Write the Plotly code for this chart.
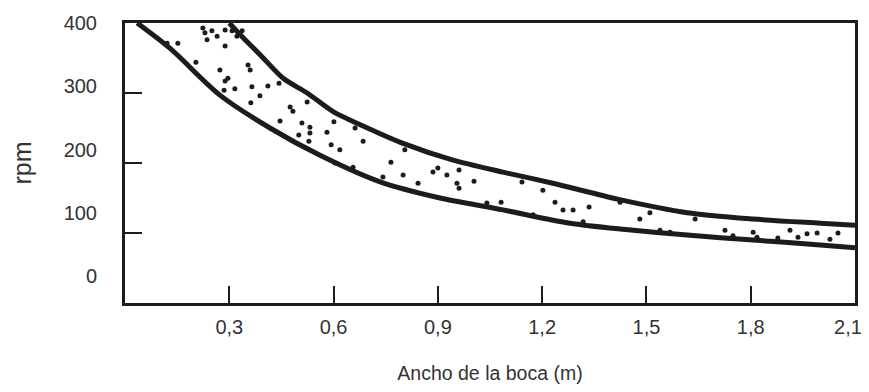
import plotly.graph_objects as go

# ---- data ----
upper_x = [0.30, 0.33, 0.39, 0.455, 0.524, 0.60, 0.68, 0.80, 0.944, 1.087, 1.231, 1.42, 1.617, 1.807, 2.0, 2.1]
upper_y = [400, 384, 354, 321, 300, 273, 254, 228, 204, 187, 171, 148, 129, 120, 114, 111]

lower_x = [0.035, 0.129, 0.273, 0.417, 0.561, 0.734, 0.897, 1.087, 1.28, 1.44, 1.617, 1.807, 2.0, 2.1]
lower_y = [400, 364, 297, 250, 211, 173, 151, 133, 114, 105, 97, 90, 83, 79]

pts_x = [0.121, 0.152, 0.224, 0.230, 0.236, 0.250, 0.265, 0.288, 0.288, 0.308, 0.322, 0.337,
         0.204, 0.273, 0.296, 0.288, 0.285, 0.316, 0.354, 0.360, 0.365, 0.388, 0.362, 0.411,
         0.443, 0.475, 0.483, 0.446, 0.509, 0.500, 0.532, 0.532, 0.529, 0.524, 0.601, 0.581,
         0.593, 0.618, 0.662, 0.685, 0.604, 0.656, 0.765, 0.805, 0.800, 0.886, 0.843, 0.742,
         0.900, 0.926, 0.955, 0.961, 0.961, 1.004, 1.041, 1.082, 1.174, 1.202, 1.237, 1.260,
         1.289, 1.335, 1.318, 1.424, 1.142, 1.481, 1.510, 1.539, 1.568, 1.640, 1.726, 1.749,
         1.807, 1.818, 1.878, 1.913, 1.936, 1.962, 1.991, 2.028, 2.051]
pts_y = [371, 371, 393, 386, 376, 389, 381, 390, 367, 389, 381, 389,
         344, 333, 321, 317, 304, 306, 340, 333, 309, 296, 286, 310,
         314, 280, 274, 260, 257, 240, 251, 243, 231, 287, 259, 244,
         226, 219, 250, 231, 200, 194, 201, 219, 183, 187, 171, 180,
         193, 183, 171, 164, 190, 174, 143, 144, 126, 161, 144, 133,
         133, 137, 116, 144, 173, 120, 129, 104, 101, 120, 104, 96,
         101, 94, 93, 104, 94, 99, 100, 91, 100]

x_tickvals = [0.3, 0.6, 0.9, 1.2, 1.5, 1.8, 2.1]
x_ticktext = ["0,3", "0,6", "0,9", "1,2", "1,5", "1,8", "2,1"]
y_tickmarks = [100, 200, 300]
y_labelvals = [0, 100, 200, 300, 400]
y_labeltext = ["0", "100", "200", "300", "400"]

INK = "#1c1c1c"
TXT = "#333333"
FONT = "Liberation Sans"

fig = go.Figure()
fig.add_trace(go.Scatter(x=pts_x, y=pts_y, mode="markers",
                         marker=dict(size=5, color=INK), showlegend=False))
fig.add_trace(go.Scatter(x=upper_x, y=upper_y, mode="lines",
                         line=dict(color=INK, width=5, shape="spline", smoothing=0.8),
                         showlegend=False))
fig.add_trace(go.Scatter(x=lower_x, y=lower_y, mode="lines",
                         line=dict(color=INK, width=5, shape="spline", smoothing=0.8),
                         showlegend=False))
# invisible traces to activate the extra label axes
fig.add_trace(go.Scatter(x=[None], y=[None], yaxis="y2", showlegend=False, hoverinfo="skip"))
fig.add_trace(go.Scatter(x=[None], y=[None], xaxis="x2", showlegend=False, hoverinfo="skip"))

# page body has an 8px default margin: figure sized so the page fits the 869x392 window
fig.update_layout(
    width=853, height=376,
    margin=dict(l=117, r=6, t=15, b=81),
    paper_bgcolor="white", plot_bgcolor="white",
    font=dict(family=FONT, color=TXT, size=20),
    xaxis=dict(range=[0, 2.1], tickvals=x_tickvals, ticktext=x_ticktext[:-1] + [""],
               ticks="inside", ticklen=17, tickwidth=2, tickcolor=INK,
               showline=True, linewidth=3, linecolor=INK, mirror=True,
               showgrid=False, zeroline=False, ticklabelstandoff=4, automargin=False,
               tickfont=dict(size=20, color=TXT),
               title=dict(text="Ancho de la boca (m)", font=dict(size=19.5, color=TXT), standoff=31)),
    # last x label, shifted left so it stays inside the page
    xaxis2=dict(range=[0, 2.1], overlaying="x", anchor="y", side="bottom",
                tickvals=x_tickvals[-1:], ticktext=x_ticktext[-1:], ticks="",
                showline=False, showgrid=False, zeroline=False, ticklabelstandoff=10,
                ticklabelshift=-7, ticklabeloverflow="allow", automargin=False,
                tickfont=dict(size=20, color=TXT)),
    yaxis=dict(range=[0, 400], tickvals=y_tickmarks, showticklabels=False,
               ticks="inside", ticklen=17, tickwidth=2, tickcolor=INK,
               showline=True, linewidth=3, linecolor=INK, mirror=True,
               showgrid=False, zeroline=False, automargin=False),
    yaxis2=dict(range=[-42.7, 400.5], overlaying="y", side="left", anchor="x",
                tickvals=y_labelvals, ticktext=y_labeltext, ticks="",
                showline=False, showgrid=False, zeroline=False, ticklabelstandoff=27,
                automargin=False, tickfont=dict(size=20, color=TXT),
                title=dict(text="rpm", font=dict(size=25, color=TXT), standoff=27)),
)

fig.write_html("out.html")
